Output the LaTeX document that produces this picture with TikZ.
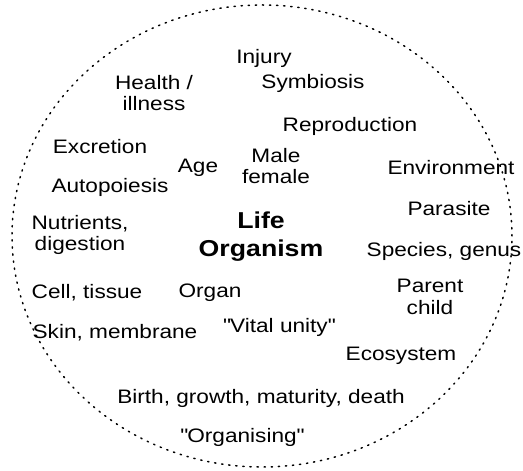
\documentclass[tikz,border=0pt]{standalone}
\usepackage{fontspec}
\setmainfont{Liberation Sans}[FakeStretch=1.16]
\begin{document}
\begin{tikzpicture}[x=1pt,y=1pt,
  term/.style={inner sep=0pt, align=center,
    font=\fontsize{19.5}{21.5}\selectfont},
  core/.style={inner sep=0pt, align=center,
    font=\fontsize{23}{28}\selectfont\bfseries},
  rim/.style={line width=1.5pt, dash pattern=on 1.3pt off 5.8pt, line cap=round}]
\useasboundingbox (0,0) rectangle (523,471);
% boundary of the organism
\draw[rim] (262,235) ellipse [x radius=250, y radius=231];
% central concept
\node[core] (life) at (261,234) {Life\\Organism};
% surrounding terms
\node[term] (injury) at (264,413) {Injury};
\node[term] (health) at (154,378) {Health /\\illness};
\node[term] (symb) at (313,388) {Symbiosis};
\node[term] (repro) at (350,345) {Reproduction};
\node[term] (excr) at (100,324) {Excretion};
\node[term] (age) at (198,303) {Age};
\node[term] (sex) at (276,305) {Male\\female};
\node[term] (env) at (451,303) {Environment};
\node[term] (auto) at (110,284) {Autopoiesis};
\node[term] (para) at (449,262) {Parasite};
\node[term] (nutr) at (80,236) {Nutrients,\\digestion};
\node[term] (spec) at (444,220) {Species, genus};
\node[term] (parent) at (430,174) {Parent\\child};
\node[term] (cell) at (87,178) {Cell, tissue};
\node[term] (organ) at (210,178) {Organ};
\node[term] (skin) at (115,138) {Skin, membrane};
\node[term] (vital) at (279,144) {\textquotedbl Vital unity\textquotedbl};
\node[term] (eco) at (401,115) {Ecosystem};
\node[term] (birth) at (261,73) {Birth, growth, maturity, death};
\node[term] (orgs) at (242,34) {\textquotedbl Organising\textquotedbl};
\end{tikzpicture}
\end{document}
